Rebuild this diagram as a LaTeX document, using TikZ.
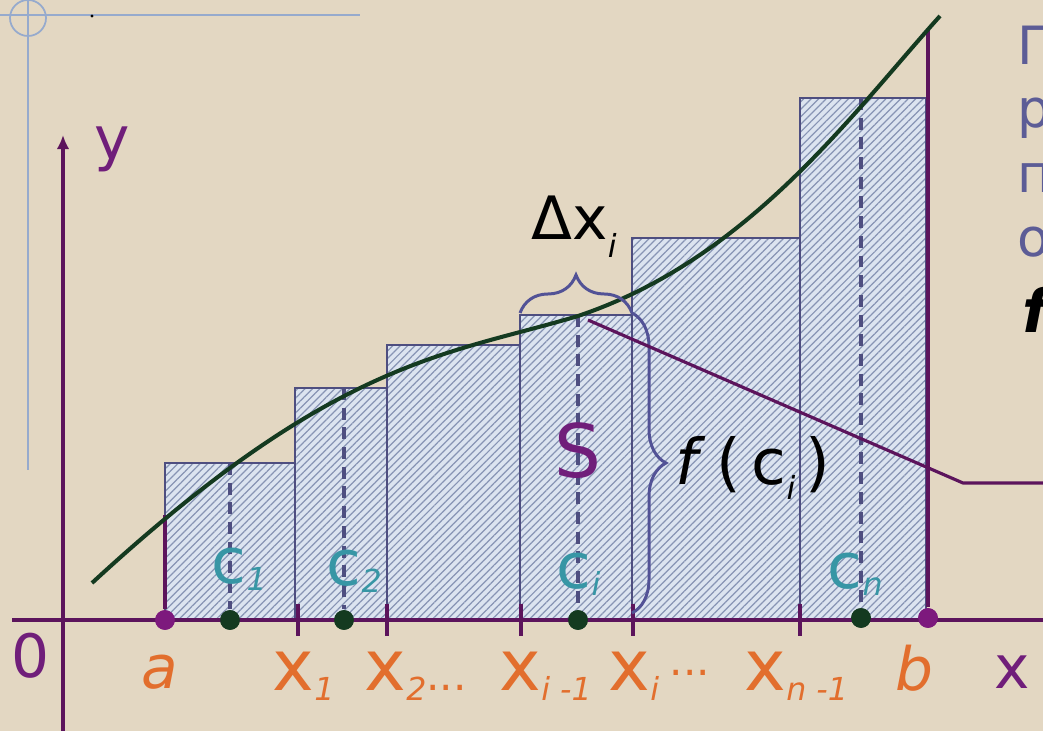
\documentclass[tikz,border=0pt]{standalone}
\usepackage{fontspec}
\setmainfont{DejaVu Sans}
\usetikzlibrary{arrows.meta,decorations.pathreplacing,patterns.meta}

\definecolor{paper}{RGB}{227,215,194}
\definecolor{guide}{RGB}{150,170,205}
\definecolor{axisviolet}{RGB}{92,20,92}
\definecolor{dotviolet}{RGB}{125,25,125}
\definecolor{curvegreen}{RGB}{20,58,32}
\definecolor{rectfill}{RGB}{220,228,240}
\definecolor{hatch}{RGB}{135,148,180}
\definecolor{rectline}{RGB}{78,78,128}
\definecolor{braceblue}{RGB}{82,82,150}
\definecolor{cteal}{RGB}{55,150,165}
\definecolor{xorange}{RGB}{226,110,45}
\definecolor{textviolet}{RGB}{112,30,122}
\definecolor{sideblue}{RGB}{92,92,150}

\newcommand{\sbi}[2][3pt]{\raisebox{-#1}{\fontsize{9}{9}\selectfont\itshape #2}}
\newcommand{\dotsx}[1][0pt]{\raisebox{#1}{\fontsize{12}{12}\selectfont...}}

\begin{document}
\begin{tikzpicture}[x=0.01cm,y=-0.01cm,
  strip/.style={draw=rectline,line width=.45pt,preaction={fill=rectfill},
    pattern={Lines[angle=45,distance=1.5pt,line width=.35pt]},pattern color=hatch},
  axisline/.style={draw=axisviolet,line width=1.3pt},
  tickline/.style={draw=axisviolet,line width=.9pt},
  graph/.style={draw=curvegreen,line width=1.15pt},
  ordinate/.style={draw=rectline,line width=.9pt,dash pattern=on 3.4pt off 2.2pt},
  enddot/.style={circle,fill=dotviolet,inner sep=0pt,minimum size=5.6pt},
  tagdot/.style={circle,fill=curvegreen,inner sep=0pt,minimum size=5.6pt},
  bracket/.style={draw=braceblue,line width=.85pt,decorate,decoration={brace,amplitude=#1}},
  bracket/.default=3.6mm,
  pointer/.style={draw=axisviolet,line width=.9pt},
  xlab/.style={text=xorange,inner sep=0pt,anchor=base west,font=\fontsize{20}{20}\selectfont},
  ablab/.style={text=xorange,inner sep=0pt,anchor=base,font=\fontsize{17}{17}\selectfont\itshape},
  clab/.style={text=cteal,inner sep=0pt,anchor=base west,font=\fontsize{18}{18}\selectfont},
  vlab/.style={text=textviolet,inner sep=0pt,anchor=base,font=\fontsize{17}{17}\selectfont},
  blab/.style={text=black,inner sep=0pt,anchor=base west,font=\fontsize{17}{17}\selectfont},
  side/.style={text=sideblue,inner sep=0pt,anchor=base west,font=\fontsize{15}{15}\selectfont}]
% Riemann sum
\path[use as bounding box] (0,0) rectangle (1043,731);
\clip (0,0) rectangle (1043,731);
\fill[paper] (0,0) rectangle (1043,731);

\draw[guide,line width=.5pt] (0,15) -- (360,15);
\draw[guide,line width=.5pt] (28,0) -- (28,470);
\draw[guide,line width=.5pt] (28,18) circle (18);
\fill[black] (92,16) circle (1.6);

\draw[strip] (165,620) rectangle (295,463);
\draw[strip] (295,620) rectangle (387,388);
\draw[strip] (387,620) rectangle (520,345);
\draw[strip] (520,620) rectangle (632,315);
\draw[strip] (632,620) rectangle (800,238);
\draw[strip] (800,620) rectangle (926,98);

\coordinate (f1) at (230,463);
\coordinate (f2) at (344,388);
\coordinate (fi) at (578,315);
\coordinate (fn) at (861,98);
\coordinate (fa) at (165,515);
\coordinate (fb) at (928,30);

\node[tagdot] (c1) at (230,620) {};
\node[tagdot] (c2) at (344,620) {};
\node[tagdot] (ci) at (578,620) {};
\node[tagdot] (cn) at (861,618) {};
\node[enddot] (a) at (165,620) {};
\node[enddot] (b) at (928,618) {};

\draw[ordinate] (f1) -- (c1);
\draw[ordinate] (f2) -- (c2);
\draw[ordinate] (fi) -- (ci);
\draw[ordinate] (fn) -- (cn);

\draw[axisline] (a) -- (fa);
\draw[axisline] (b) -- (fb);

\draw[graph] (92,583) .. controls (336,358) and (448,355) .. (578,316)
  .. controls (748,259) and (850,116) .. (940,16);

\coordinate (xl) at (12,620);
\coordinate (xr) at (1060,620);
\coordinate (ybot) at (63,740);
\coordinate (ytop) at (63,135);
\draw[axisline] (xl) -- (xr);
\draw[axisline,line width=1.1pt,-{Latex[length=4pt,width=3.6pt]}] (ybot) -- (ytop);

\foreach \px/\nm in {298/x1,387/x2,521/xim,633/xi,800/xnm}
  \draw[tickline] (\px,604) coordinate (\nm) -- (\px,636);

\node[tagdot] at (c1) {};
\node[tagdot] at (c2) {};
\node[tagdot] at (ci) {};
\node[tagdot] at (cn) {};
\node[enddot] at (a) {};
\node[enddot] at (b) {};

\coordinate (dl) at (520,313);
\coordinate (dr) at (632,313);
\coordinate (hb) at (632,613);
\draw[bracket=3.8mm] (dl) -- (dr);
\draw[bracket=3.4mm] (dr) -- (hb);

\coordinate (tip) at (588,320);
\coordinate (bend) at (963,483);
\coordinate (edge) at (1060,483);
\draw[pointer] (tip) -- (bend) -- (edge);

\node[vlab] (ylab) at (112,160) {y};
\node[vlab] (olab) at (31,677) {0};
\node[vlab] (xlab) at (1012,688) {x};
\node[vlab,font=\fontsize{21}{21}\selectfont] (slab) at (578,478) {S};

\node[ablab] (alab) at (160,688) {a};
\node[ablab] (blab) at (914,690) {b};
\node[xlab] (x1lab) at (272,690) {x\sbi{1}};
\node[xlab] (x2lab) at (364,690) {x\sbi{2}\dotsx};
\node[xlab] (ximlab) at (499,690) {x\sbi{i -1}};
\node[xlab] (xilab) at (608,690) {x\sbi{i}\hspace{.15em}\dotsx[4pt]};
\node[xlab] (xnmlab) at (744,690) {x\sbi{n -1}};

\node[clab] (c1lab) at (211,583) {c\sbi[2pt]{1}};
\node[clab] (c2lab) at (326,585) {c\sbi[2pt]{2}};
\node[clab] (cilab) at (556,588) {c\sbi[2pt]{i}};
\node[clab] (cnlab) at (827,588) {c\sbi[2pt]{n}};

\node[blab] (dxlab) at (531,240) {Δx\sbi[5pt]{i}};
\node[blab,font=\fontsize{18}{18}\selectfont] (fclab) at (675,485) {\textit{f}\,(\,c\sbi[4pt]{i}\,)};

\node[side] (s1) at (1017,65) {Г};
\node[side] (s2) at (1017,128) {р};
\node[side] (s3) at (1017,193) {п};
\node[side] (s4) at (1017,257) {о};
\node[side,text=black,font=\fontsize{17}{17}\selectfont\bfseries\itshape] (s5) at (1022,333) {f};
\end{tikzpicture}
\end{document}
